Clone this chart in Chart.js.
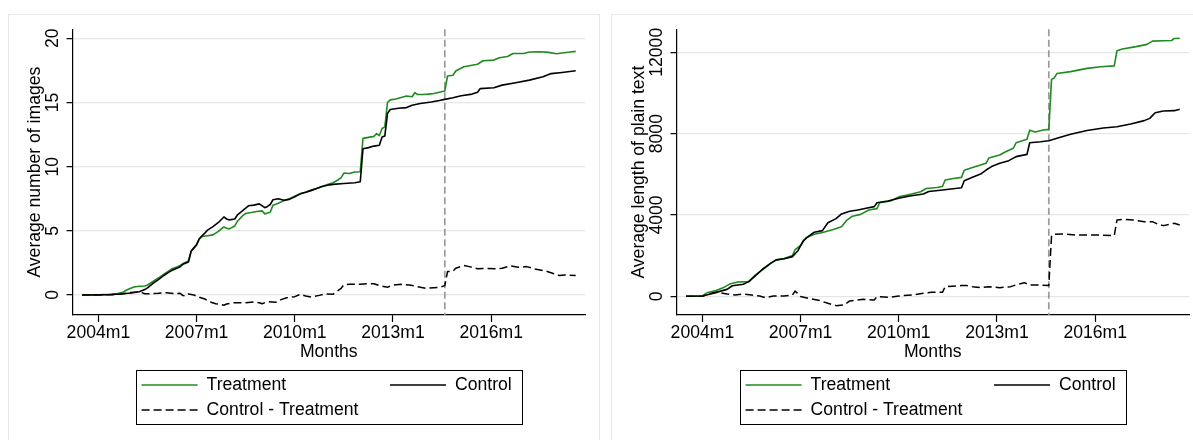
<!DOCTYPE html>
<html>
<head>
<meta charset="utf-8">
<script src="https://cdn.jsdelivr.net/npm/chart.js"></script>
<style>
  html, body { margin: 0; padding: 0; background: #fff; }
  body { width: 1193px; height: 440px; position: relative; overflow: hidden; }
  .frame { position: absolute; top: 14px; width: 592px; height: 440px; border: 1px solid #e8e8e8; box-sizing: border-box; }
  .panel { position: absolute; top: 14px; width: 592px; height: 426px; }
</style>
</head>
<body>
<div class="frame" style="left:8px"></div>
<div class="frame" style="left:611px"></div>
<div class="panel" style="left:8px"><canvas id="imagesChart"></canvas></div>
<div class="panel" style="left:612px"><canvas id="textChart"></canvas></div>

<script>
const FONT = '"Liberation Sans", Arial, Helvetica, sans-serif';
const FONT_SIZE = 17.6;
const TEXT_COLOR = '#000';

// x axis: months counted from 2004m1
const xTickMonths = [0, 36, 72, 108, 144];
const xTickLabels = ['2004m1', '2007m1', '2010m1', '2013m1', '2016m1'];
const breakMonth = 127; // 2014m8
const seriesNames = ['Treatment', 'Control', 'Control - Treatment'];

// left panel: average number of images
const imgYTicks = [0, 5, 10, 15, 20];
const imgTreatMonths = [-6,0,4,7,9,10,11,13,15,17,18,20,22,24,26,27,29,30,31,32,33,34,35,36,37,38,40,42,44,46,47,48,50,51,53,54,56,58,60,61,62,63,64,66,68,70,72,74,76,78,80,82,84,86,88,89,90,92,94,96,97,99,101,102,103,104,105,106,107,109,111,113,115,116,117,119,121,123,125,127,128,130,131,134,136,139,141,145,147,150,152,156,158,162,165,168,170,173,175];
const imgTreatValues = [0,0.02,0.05,0.12,0.2,0.35,0.45,0.62,0.68,0.7,0.78,1.05,1.32,1.62,1.9,2.05,2.2,2.3,2.45,2.55,2.65,3.45,3.7,3.95,4.35,4.55,4.62,4.68,4.95,5.3,5.2,5.15,5.38,5.75,6.2,6.35,6.42,6.5,6.55,6.32,6.38,6.45,7.0,7.15,7.35,7.5,7.7,7.88,8.0,8.15,8.3,8.45,8.6,8.75,8.98,9.15,9.5,9.46,9.58,9.6,12.2,12.28,12.36,12.58,12.42,12.97,13.1,15.0,15.2,15.27,15.38,15.5,15.45,15.76,15.62,15.62,15.65,15.7,15.8,15.9,17.06,17.12,17.45,17.78,17.86,17.98,18.25,18.3,18.48,18.58,18.82,18.82,18.93,18.95,18.9,18.8,18.85,18.93,18.98];
const imgCtrlMonths = [-6,0,5,8,12,15,17,18,20,22,24,26,27,29,30,31,33,34,35,36,37,39,40,42,44,46,47,48,50,51,53,55,57,59,61,62,63,64,66,68,70,72,74,76,78,80,82,84,86,90,94,96,97,99,101,103,104,105,106,107,110,113,115,118,122,125,127,130,133,137,139,140,145,148,153,158,163,166,170,175];
const imgCtrlValues = [0,0.01,0.04,0.08,0.16,0.25,0.42,0.55,0.9,1.2,1.52,1.8,1.92,2.1,2.2,2.4,2.57,3.4,3.65,3.9,4.4,4.82,5.05,5.32,5.65,6.08,5.92,5.85,5.92,6.25,6.6,6.95,7.0,7.1,6.8,6.9,7.05,7.42,7.5,7.38,7.45,7.65,7.88,8.0,8.15,8.3,8.45,8.55,8.62,8.68,8.75,8.82,11.4,11.48,11.6,11.67,12.3,12.38,14.15,14.45,14.55,14.6,14.78,14.92,15.03,15.15,15.24,15.37,15.52,15.65,15.8,16.08,16.15,16.35,16.54,16.74,17.0,17.25,17.34,17.47];
const imgDiffMonths = [-6,5,9,12,15,17,19,22,25,28,30,31,32,33,35,37,39,41,43,45,46,47,49,51,54,57,59,60,62,65,67,69,72,74,76,78,81,83,86,87,89,90,92,96,99,101,103,106,108,111,114,117,120,123,125,127,128,130,131,134,136,139,142,146,148,151,154,157,160,164,167,169,171,175];
const imgDiffValues = [0,0.02,0.1,0.2,0.25,0.1,0.1,0.13,0.18,0.1,0.13,-0.05,-0.08,0.08,0,-0.18,-0.31,-0.55,-0.68,-0.75,-0.8,-0.7,-0.62,-0.6,-0.6,-0.55,-0.6,-0.68,-0.52,-0.57,-0.36,-0.22,-0.13,0.05,-0.08,-0.16,-0.03,0.08,0.05,0.21,0.52,0.8,0.83,0.83,0.88,0.88,0.73,0.6,0.78,0.83,0.78,0.65,0.52,0.57,0.6,0.73,1.82,1.85,2.08,2.29,2.21,2.05,2.08,2.03,2.08,2.26,2.16,2.21,2.03,1.87,1.66,1.51,1.56,1.51];

// right panel: average length of plain text
const txtYTicks = [0, 4000, 8000, 12000];
const txtTreatMonths = [-6,0,2,5,8,10,13,17,19,22,25,27,30,33,34,36,38,41,44,48,51,53,55,58,61,64,65,69,72,76,80,82,86,88,89,92,95,96,99,102,104,105,109,111,114,115,119,120,122,125,127,128,129,130,135,141,146,151,152,154,159,163,165,169,172,173,175];
const txtTreatValues = [0,30,190,280,450,600,700,720,1000,1300,1620,1780,1860,2000,2300,2500,2880,3050,3140,3290,3420,3750,3940,4030,4240,4310,4600,4690,4890,5010,5140,5300,5350,5400,5720,5790,5850,6200,6330,6460,6540,6800,6950,7100,7280,7550,7720,8170,8080,8180,8210,10670,10740,10960,11050,11210,11290,11330,12080,12160,12280,12390,12550,12570,12580,12680,12690];
const txtCtrlMonths = [-6,0,3,6,9,11,15,17,20,22,25,27,30,33,35,37,39,41,44,46,49,51,54,57,60,63,64,68,72,76,81,83,88,95,96,99,102,104,106,109,112,115,119,120,124,127,130,135,141,147,152,157,162,164,166,169,173,175];
const txtCtrlValues = [0,15,115,230,340,520,590,720,1080,1330,1620,1790,1850,1950,2240,2740,2960,3150,3230,3620,3820,4050,4180,4245,4330,4410,4600,4690,4820,4930,5030,5150,5230,5340,5680,5850,6010,6210,6380,6540,6650,6870,6980,7550,7600,7650,7770,7970,8150,8280,8340,8470,8640,8750,9030,9110,9130,9195];
const txtDiffMonths = [-6,0,3,5,9,12,15,18,21,23,26,30,33,34,36,39,43,46,49,52,54,59,63,64,69,72,77,81,84,88,89,95,97,99,102,105,109,113,116,118,120,123,127,128,129,132,137,145,151,152,154,158,162,165,167,169,173,175];
const txtDiffValues = [0,0,150,200,115,65,115,65,15,-65,15,15,65,260,-15,-100,-210,-345,-460,-425,-230,-150,-180,-15,-50,15,65,150,200,195,475,525,525,475,425,475,425,475,605,670,555,555,525,2965,3050,3065,3015,3015,2985,3755,3785,3755,3670,3670,3540,3475,3590,3505];

function points(months, values) {
  return months.map((m, i) => ({ x: m, y: values[i] }));
}

// y tick labels are drawn turned by 90 degrees, Stata style
const rotatedYLabels = {
  id: 'rotatedYLabels',
  afterDraw(chart, args, opts) {
    const scale = chart.scales.y;
    const ctx = chart.ctx;
    ctx.save();
    ctx.fillStyle = TEXT_COLOR;
    ctx.font = FONT_SIZE + 'px ' + FONT;
    ctx.textAlign = 'center';
    ctx.textBaseline = 'middle';
    scale.ticks.forEach(t => {
      ctx.save();
      ctx.translate(opts.x, scale.getPixelForValue(t.value));
      ctx.rotate(-Math.PI / 2);
      ctx.fillText(String(t.value), 0, 0);
      ctx.restore();
    });
    ctx.restore();
  }
};

const breakLine = {
  id: 'breakLine',
  beforeDatasetsDraw(chart) {
    const ctx = chart.ctx;
    const x = chart.scales.x.getPixelForValue(breakMonth);
    const area = chart.chartArea;
    ctx.save();
    ctx.strokeStyle = '#9a9a9a';
    ctx.lineWidth = 1.7;
    ctx.setLineDash([7, 3.5]);
    ctx.beginPath();
    ctx.moveTo(x, area.top);
    ctx.lineTo(x, area.bottom);
    ctx.stroke();
    ctx.restore();
  }
};

// boxed two-column legend under the plot
const boxLegend = {
  id: 'boxLegend',
  afterDraw(chart) {
    const ctx = chart.ctx;
    const slots = [[133.6, 371], [382, 371], [133.6, 396]];
    ctx.save();
    ctx.strokeStyle = '#000';
    ctx.lineWidth = 1;
    ctx.strokeRect(128.5, 356.5, 386, 54);
    ctx.font = FONT_SIZE + 'px ' + FONT;
    ctx.textAlign = 'left';
    ctx.textBaseline = 'middle';
    chart.data.datasets.forEach((d, i) => {
      const [sx, sy] = slots[i];
      ctx.strokeStyle = d.borderColor;
      ctx.lineWidth = d.borderWidth;
      ctx.setLineDash(d.borderDash || []);
      ctx.beginPath();
      ctx.moveTo(sx, sy);
      ctx.lineTo(sx + 56, sy);
      ctx.stroke();
      ctx.setLineDash([]);
      ctx.fillStyle = TEXT_COLOR;
      ctx.fillText(d.label, sx + 65, sy);
    });
    ctx.restore();
  }
};

function makePanel(canvasId, yTitle, yMin, yMax, yTicks, treat, ctrl, diff) {
  const ctx = document.getElementById(canvasId);
  if (!ctx) return;

  new Chart(ctx, {
    type: 'line',
    data: {
      datasets: [
        { label: seriesNames[0], data: treat, borderColor: '#1f8a1f', borderWidth: 1.6, order: 1 },
        { label: seriesNames[1], data: ctrl, borderColor: '#000', borderWidth: 1.6, order: 0 },
        { label: seriesNames[2], data: diff, borderColor: '#000', borderWidth: 1.5, borderDash: [8, 4], order: 2 }
      ]
    },
    options: {
      responsive: true,
      maintainAspectRatio: false,
      animation: false,
      layout: { padding: { left: 0, top: 15.3, right: 15, bottom: 77.7 } },
      elements: {
        point: { radius: 0 },
        line: { tension: 0, fill: false, borderJoinStyle: 'round' }
      },
      plugins: {
        legend: { display: false },
        tooltip: { enabled: false },
        rotatedYLabels: { x: 45.5 }
      },
      scales: {
        x: {
          type: 'linear',
          min: -9.5,
          max: 178.4,
          afterBuildTicks: s => { s.ticks = xTickMonths.map(v => ({ value: v })); },
          afterFit: s => { s.height = 47.3; },
          ticks: {
            callback: (v, i) => xTickLabels[i],
            autoSkip: false,
            maxRotation: 0,
            padding: 0.5,
            color: TEXT_COLOR,
            font: { size: FONT_SIZE }
          },
          grid: { drawOnChartArea: false, drawTicks: true, tickLength: 7, tickColor: '#000', tickWidth: 1.2 },
          border: { color: '#000', width: 1.2 },
          title: { display: true, text: 'Months', padding: 0, color: TEXT_COLOR, font: { size: FONT_SIZE } }
        },
        y: {
          min: yMin,
          max: yMax,
          afterBuildTicks: s => { s.ticks = yTicks.map(v => ({ value: v })); },
          afterFit: s => { s.width = 64.5; },
          ticks: { display: false },
          grid: { color: '#e6e6e6', lineWidth: 1.3, tickLength: 6, tickColor: '#000', tickWidth: 1.2 },
          border: { color: '#000', width: 1.2 },
          title: { display: true, text: yTitle, padding: { top: 16.9, bottom: 0 }, color: TEXT_COLOR, font: { size: FONT_SIZE } }
        }
      }
    },
    plugins: [breakLine, rotatedYLabels, boxLegend]
  });
}

Chart.defaults.font.family = FONT;
Chart.defaults.font.size = FONT_SIZE;

makePanel('imagesChart', 'Average number of images', -1.56, 20.7, imgYTicks,
  points(imgTreatMonths, imgTreatValues),
  points(imgCtrlMonths, imgCtrlValues),
  points(imgDiffMonths, imgDiffValues));

makePanel('textChart', 'Average length of plain text', -920, 13131, txtYTicks,
  points(txtTreatMonths, txtTreatValues),
  points(txtCtrlMonths, txtCtrlValues),
  points(txtDiffMonths, txtDiffValues));
</script>
</body>
</html>
